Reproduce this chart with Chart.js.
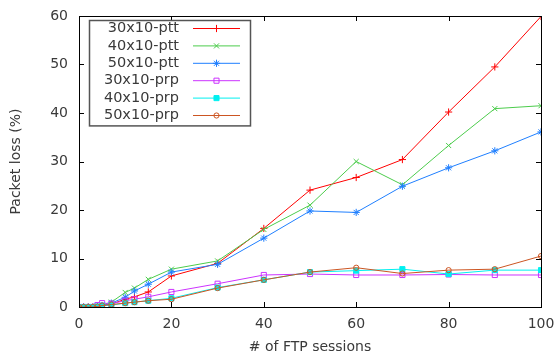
<!DOCTYPE html>
<html>
<head>
<meta charset="utf-8">
<script src="https://cdn.jsdelivr.net/npm/chart.js@4"></script>
<style>
  html, body { margin: 0; padding: 0; background: #fff; }
  #wrap { width: 556px; height: 358px; }
</style>
</head>
<body>
<div id="wrap"><canvas id="c"></canvas></div>
<script>
// x: number of FTP sessions
const sessions = [0, 1, 2, 3, 4, 5, 7, 10, 12, 15, 20, 30, 40, 50, 60, 70, 80, 90, 100];

const ptt30 = [0, 0, 0, 0, 0.2, 0.3, 0.6, 1.6, 2.1, 3.1, 6.4, 9.0, 16.2, 24.1, 26.7, 30.4, 40.2, 49.5, 59.9];
const ptt40 = [0, 0, 0, 0, 0.2, 0.4, 1.0, 3.0, 3.9, 5.7, 7.8, 9.5, 16.0, 21.0, 30.0, 25.2, 33.3, 40.9, 41.5];
const ptt50 = [0, 0, 0, 0, 0.2, 0.3, 0.8, 2.0, 3.3, 4.7, 7.2, 8.8, 14.2, 19.8, 19.5, 24.9, 28.7, 32.2, 36.1];
const prp30 = [0, 0, 0, 0, 0.4, 0.8, 0.7, 1.3, 1.6, 2.1, 3.1, 4.8, 6.6, 6.8, 6.6, 6.6, 6.7, 6.6, 6.6];
const prp40 = [0, 0, 0, 0, 0.1, 0.3, 0.4, 0.8, 1.0, 1.3, 1.8, 4.0, 5.6, 7.2, 7.5, 7.8, 6.8, 7.6, 7.6];
const prp50 = [0, 0, 0, 0, 0.1, 0.3, 0.5, 0.8, 1.0, 1.3, 1.6, 3.9, 5.6, 7.2, 8.1, 6.9, 7.6, 7.8, 10.5];

const seriesNames = ['30x10-ptt', '40x10-ptt', '50x10-ptt', '30x10-prp', '40x10-prp', '50x10-prp'];
const seriesValues = [ptt30, ptt40, ptt50, prp30, prp40, prp50];
const seriesColors = ['#ff0000', '#4ccc4c', '#1f7fff', '#cc33ff', '#00f0f0', '#cc5522'];
const seriesMarkers = ['cross', 'crossRot', 'star', 'rect', 'rect', 'circle'];
const seriesFilled = [false, false, false, false, true, false];

const xTicks = [0, 20, 40, 60, 80, 100];
const yTicks = [0, 10, 20, 30, 40, 50, 60];

const FONT = 'DejaVu Sans';
const TEXT = '#3a3a3a';

const datasets = seriesNames.map((name, i) => ({
  label: name,
  data: sessions.map((s, j) => ({ x: s, y: seriesValues[i][j] })),
  borderColor: seriesColors[i],
  backgroundColor: seriesFilled[i] ? seriesColors[i] : 'rgba(0,0,0,0)',
  pointBorderColor: seriesColors[i],
  pointBackgroundColor: seriesFilled[i] ? seriesColors[i] : 'rgba(0,0,0,0)',
  pointStyle: seriesMarkers[i],
  pointRadius: seriesMarkers[i] === 'circle' ? 2.6 : 3.6,
  pointBorderWidth: 1,
  borderWidth: 1,
  tension: 0,
  order: seriesNames.length - i
}));

// frame, inward ticks on all four sides, and the gnuplot style key
const framePlugin = {
  id: 'frame',
  afterDraw(chart) {
    const ctx = chart.ctx;
    const a = chart.chartArea;
    const xs = chart.scales.x, ys = chart.scales.y;
    const tl = 5;
    ctx.save();
    ctx.strokeStyle = '#000';
    ctx.lineWidth = 1;
    ctx.beginPath();
    xTicks.forEach(v => {
      const px = Math.round(xs.getPixelForValue(v)) + 0.5;
      ctx.moveTo(px, a.bottom); ctx.lineTo(px, a.bottom - tl);
      ctx.moveTo(px, a.top); ctx.lineTo(px, a.top + tl);
    });
    yTicks.forEach(v => {
      const py = Math.round(ys.getPixelForValue(v)) + 0.5;
      ctx.moveTo(a.left, py); ctx.lineTo(a.left + tl, py);
      ctx.moveTo(a.right, py); ctx.lineTo(a.right - tl, py);
    });
    ctx.stroke();
    ctx.strokeRect(Math.round(a.left) + 0.5, Math.round(a.top) + 0.5,
      Math.round(a.right - a.left), Math.round(a.bottom - a.top));

    // key
    const bx = 89.5, by = 20.5, bw = 161, rowH = 17.4;
    const bh = rowH * seriesNames.length + 1;
    ctx.fillStyle = '#fff';
    ctx.fillRect(bx, by, bw, bh);
    ctx.strokeStyle = '#555';
    ctx.lineWidth = 1.5;
    ctx.strokeRect(bx, by, bw, bh);
    ctx.font = '14.5px "' + FONT + '"';
    ctx.textAlign = 'right';
    ctx.textBaseline = 'middle';
    chart.data.datasets.forEach((ds, i) => {
      const cy = by + 8 + i * rowH;
      ctx.fillStyle = TEXT;
      ctx.fillText(ds.label, 179, cy);
      ctx.strokeStyle = ds.borderColor;
      ctx.lineWidth = 1;
      ctx.beginPath();
      ctx.moveTo(193, cy); ctx.lineTo(240, cy);
      ctx.stroke();
      ctx.fillStyle = ds.pointBackgroundColor;
      ctx.strokeStyle = ds.pointBorderColor;
      Chart.helpers.drawPoint(ctx, {
        pointStyle: ds.pointStyle,
        radius: ds.pointRadius,
        borderWidth: 1,
        rotation: 0
      }, 216.5, cy);
    });
    ctx.restore();
  }
};

new Chart(document.getElementById('c'), {
  type: 'line',
  data: { datasets },
  plugins: [framePlugin],
  options: {
    responsive: true,
    maintainAspectRatio: false,
    animation: false,
    layout: {
      padding: { left: 0, right: 15, top: 16, bottom: 0 }
    },
    scales: {
      x: {
        type: 'linear',
        min: 0,
        max: 100,
        afterFit(scale) {
          scale.height = 51;
          scale.paddingLeft = 0;
          scale.paddingRight = 0;
        },
        afterBuildTicks(scale) { scale.ticks = xTicks.map(v => ({ value: v })); },
        grid: { display: false, drawTicks: false },
        border: { display: false },
        ticks: {
          padding: 9,
          color: TEXT,
          font: { family: FONT, size: 14 },
          maxRotation: 0
        },
        title: {
          display: true,
          text: '# of FTP sessions',
          color: TEXT,
          font: { family: FONT, size: 14 },
          padding: { top: 0, bottom: 2 }
        }
      },
      y: {
        type: 'linear',
        min: 0,
        max: 60,
        afterFit(scale) {
          scale.width = 79;
          scale.paddingTop = 0;
          scale.paddingBottom = 0;
        },
        afterBuildTicks(scale) { scale.ticks = yTicks.map(v => ({ value: v })); },
        grid: { display: false, drawTicks: false },
        border: { display: false },
        ticks: {
          padding: 11,
          color: TEXT,
          font: { family: FONT, size: 14 }
        },
        title: {
          display: true,
          text: 'Packet loss (%)',
          color: TEXT,
          font: { family: FONT, size: 14 },
          padding: { top: 8, bottom: 0 }
        }
      }
    },
    plugins: {
      legend: { display: false },
      tooltip: { enabled: false }
    }
  }
});
</script>
</body>
</html>
